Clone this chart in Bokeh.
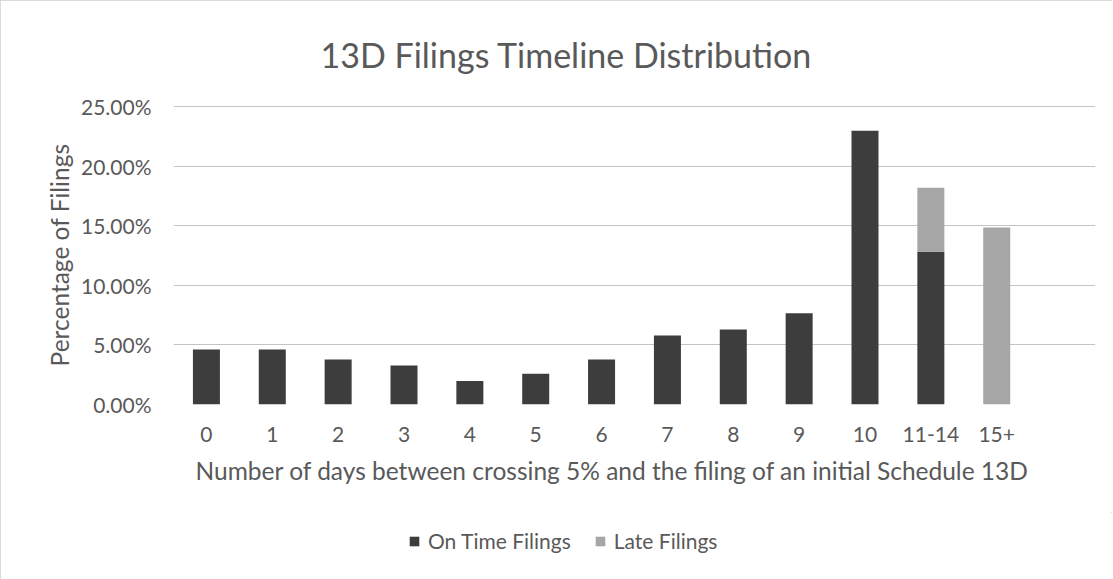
from bokeh.plotting import figure
from bokeh.layouts import column
from bokeh.models import Range1d, FixedTicker, PrintfTickFormatter, Legend, LegendItem, Title
from bokeh.embed import file_html
from bokeh.resources import INLINE

categories = ["0", "1", "2", "3", "4", "5", "6", "7", "8", "9", "10", "11-14", "15+"]
on_time = [4.62, 4.62, 3.78, 3.28, 1.97, 2.58, 3.78, 5.80, 6.30, 7.65, 22.97, 12.83, 0.0]
late = [0.0, 0.0, 0.0, 0.0, 0.0, 0.0, 0.0, 0.0, 0.0, 0.0, 0.0, 5.37, 14.85]
y_ticks = [0, 5, 10, 15, 20, 25]
series = ["On Time Filings", "Late Filings"]
colors = ["#3d3d3d", "#a6a6a6"]

FONT = "Lato"
TXT = "#595959"

xs = list(range(len(categories)))
data = dict(x=xs, on_time=on_time, late=late)

p = figure(frame_width=922, frame_height=299, output_backend="svg", toolbar_location=None,
           x_range=Range1d(-0.5, len(categories) + 0.5), y_range=Range1d(0, 25.1),
           min_border_left=173, min_border_right=17, min_border_top=103, min_border_bottom=108)

p.title.text = "13D Filings Timeline  Distribution"
p.title.align = "left"
p.title.text_font = FONT
p.title.text_font_size = "34px"
p.title.text_font_style = "normal"
p.title.text_color = TXT
p.title.offset = 147
p.title.standoff = 62

p.vbar_stack(["on_time", "late"], x="x", width=0.41, source=data,
             color=colors, line_color=None)

p.xgrid.visible = False
p.ygrid.grid_line_color = "#c4c4c4"
p.ygrid.grid_line_width = 1
p.ygrid.ticker = FixedTicker(ticks=y_ticks)
p.outline_line_color = None

p.yaxis.ticker = FixedTicker(ticks=y_ticks)
p.yaxis.formatter = PrintfTickFormatter(format="%.2f%%")
p.yaxis.axis_line_color = None
p.yaxis.major_tick_line_color = None
p.yaxis.minor_tick_line_color = None
p.yaxis.major_label_text_font = FONT
p.yaxis.major_label_text_font_size = "21px"
p.yaxis.major_label_text_color = TXT
p.yaxis.major_label_standoff = 16
p.yaxis.axis_label = "Percentage of Filings"
p.yaxis.axis_label_text_font = FONT
p.yaxis.axis_label_text_font_size = "24.5px"
p.yaxis.axis_label_text_font_style = "normal"
p.yaxis.axis_label_text_color = TXT
p.yaxis.axis_label_standoff = 4

p.xaxis.ticker = FixedTicker(ticks=xs)
p.xaxis.major_label_overrides = {i: c for i, c in enumerate(categories)}
p.xaxis.axis_line_color = None
p.xaxis.major_tick_line_color = None
p.xaxis.minor_tick_line_color = None
p.xaxis.major_label_text_font = FONT
p.xaxis.major_label_text_font_size = "21px"
p.xaxis.major_label_text_color = TXT
p.xaxis.major_label_standoff = 16

xtitle = Title(text="Number of days between crossing 5% and the filing of an initial Schedule 13D",
               align="left", offset=22, text_font=FONT, text_font_size="24.5px",
               text_font_style="normal", text_color=TXT, standoff=18)
p.add_layout(xtitle, "below")

# legend strip under the chart
p2 = figure(width=1112, height=68, output_backend="svg", toolbar_location=None,
            x_axis_location=None, y_axis_location=None, min_border=0,
            x_range=Range1d(-0.5, len(categories) + 0.5), y_range=Range1d(0, 25.1))
p2.xgrid.visible = False
p2.ygrid.visible = False
p2.outline_line_color = None
lr = p2.vbar_stack(["on_time", "late"], x="x", width=0.41, source=data,
                   color=colors, line_color=None)
for rr in lr:
    rr.visible = False

legend = Legend(items=[LegendItem(label=series[0], renderers=[lr[0]]),
                       LegendItem(label=series[1], renderers=[lr[1]])],
                orientation="horizontal", location=(235, 27))
legend.label_text_font = FONT
legend.label_text_font_size = "21px"
legend.label_text_color = TXT
legend.glyph_width = 12
legend.glyph_height = 12
legend.label_height = 25
legend.spacing = 23
legend.label_standoff = 8
legend.padding = 0
legend.margin = 0
legend.border_line_color = None
legend.background_fill_alpha = 0
legend.inactive_fill_alpha = 0
p2.add_layout(legend, "center")

layout = column(p, p2, spacing=0)
layout.styles = {"outline": "1px solid #cfcfcf", "outline-offset": "-1px"}

open("out.html", "w").write(file_html(layout, INLINE))
